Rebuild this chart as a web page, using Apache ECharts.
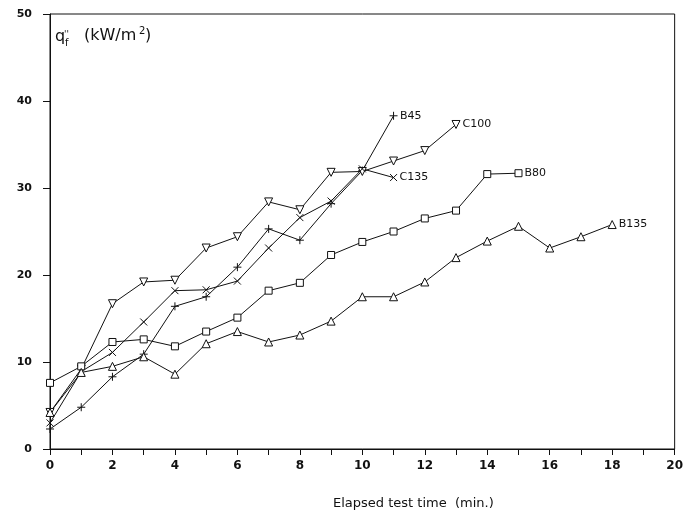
<!DOCTYPE html>
<html>
<head>
<meta charset="utf-8">
<script src="https://cdn.jsdelivr.net/npm/echarts@6/dist/echarts.min.js"></script>
<style>
html,body{margin:0;padding:0;background:#fff;}
#c{width:686px;height:516px;}
</style>
</head>
<body>
<div id="c"></div>
<script>
// Elapsed time (min) and heat flux q''_f (kW/m2) per specimen
var B45  = [2.3, 4.8, 8.3, 10.9, 16.4, 17.5, 20.9, 25.3, 24.0, 28.2, 32.0, 38.3];
var C100 = [4.2, 9.2, 16.7, 19.2, 19.4, 23.1, 24.4, 28.4, 27.5, 31.8, 31.9, 33.1, 34.3, 37.3];
var C135 = [3.0, 8.9, 11.1, 14.6, 18.2, 18.3, 19.3, 23.1, 26.6, 28.5, 32.2, 31.2];
var B80  = [7.6, 9.5, 12.3, 12.6, 11.8, 13.5, 15.1, 18.2, 19.1, 22.3, 23.8, 25.0, 26.5, 27.4, 31.6, 31.7];
var B135 = [4.2, 8.8, 9.5, 10.6, 8.6, 12.1, 13.5, 12.3, 13.1, 14.7, 17.5, 17.5, 19.2, 22.0, 23.9, 25.6, 23.1, 24.4, 25.8];
var seriesNames = ['B45', 'C100', 'C135', 'B80', 'B135'];
var xTicks = [0, 2, 4, 6, 8, 10, 12, 14, 16, 18, 20];
var yTicks = [0, 10, 20, 30, 40, 50];

var INK = '#111';
var FONT = 'DejaVu Sans';

var symbols = {
  B45: {symbol: 'path://M5,0L5,10M0,5L10,5', size: 8, rotate: 0},
  C100: {symbol: 'triangle', size: 8, rotate: 180},
  C135: {symbol: 'path://M0,0L10,10M0,10L10,0', size: 7, rotate: 0},
  B80: {symbol: 'rect', size: 7, rotate: 0},
  B135: {symbol: 'triangle', size: 8, rotate: 0}
};
var values = {B45: B45, C100: C100, C135: C135, B80: B80, B135: B135};

function build(name) {
  var arr = values[name];
  return arr.map(function (v, i) {
    var item = {value: [i, v]};
    if (i === arr.length - 1) {
      item.label = {
        show: true, position: 'right', distance: 2,
        formatter: name, color: INK, fontFamily: FONT, fontSize: 11
      };
    }
    return item;
  });
}

var series = seriesNames.map(function (name) {
  var s = symbols[name];
  return {
    name: name,
    type: 'line',
    data: build(name),
    symbol: s.symbol,
    symbolSize: s.size,
    symbolRotate: s.rotate,
    showAllSymbol: true,
    lineStyle: {color: INK, width: 1},
    itemStyle: {color: '#fff', borderColor: INK, borderWidth: 1},
    emphasis: {disabled: true},
    animation: false,
    z: 3
  };
});

var chart = echarts.init(document.getElementById('c'), null, {renderer: 'canvas'});
chart.setOption({
  backgroundColor: '#fff',
  animation: false,
  grid: {left: 50, right: 5, top: 14, bottom: 67, show: true, borderColor: INK, borderWidth: 1, backgroundColor: 'transparent'},
  xAxis: {
    type: 'value', min: 0, max: 20, interval: 1,
    axisLine: {show: true, lineStyle: {color: INK, width: 1}},
    axisTick: {show: true, length: 6, inside: false, lineStyle: {color: INK}},
    axisLabel: {
      color: INK, fontFamily: FONT, fontSize: 12, fontWeight: 'bold', margin: 11,
      formatter: function (v) { return xTicks.indexOf(v) >= 0 ? String(v) : ''; }
    },
    splitLine: {show: false}
  },
  yAxis: {
    type: 'value', min: 0, max: 50, interval: 10,
    axisLine: {show: true, lineStyle: {color: INK, width: 1}},
    axisTick: {show: true, length: 7, inside: false, lineStyle: {color: INK}},
    axisLabel: {
      color: INK, fontFamily: FONT, fontSize: 11, fontWeight: 'bold', margin: 18,
      formatter: function (v) { return yTicks.indexOf(v) >= 0 ? String(v) : ''; }
    },
    splitLine: {show: false}
  },
  graphic: [
    {type: 'text', left: 55, top: 29, style: {text: 'q', fill: INK, font: '16px "DejaVu Sans"'}},
    {type: 'text', left: 64, top: 30, style: {text: "''", fill: INK, font: '9px "DejaVu Sans"'}},
    {type: 'text', left: 65, top: 38, style: {text: 'f', fill: INK, font: '10px "DejaVu Sans"'}},
    {type: 'text', left: 84, top: 28, style: {text: '(kW/m', fill: INK, font: '16px "DejaVu Sans"'}},
    {type: 'text', left: 139, top: 26, style: {text: '2', fill: INK, font: '10px "DejaVu Sans"'}},
    {type: 'text', left: 145, top: 28, style: {text: ')', fill: INK, font: '16px "DejaVu Sans"'}},
    {type: 'text', left: 333, top: 497, style: {text: 'Elapsed test time  (min.)', fill: INK, font: '13px "DejaVu Sans"'}}
  ],
  series: series
});
</script>
</body>
</html>
